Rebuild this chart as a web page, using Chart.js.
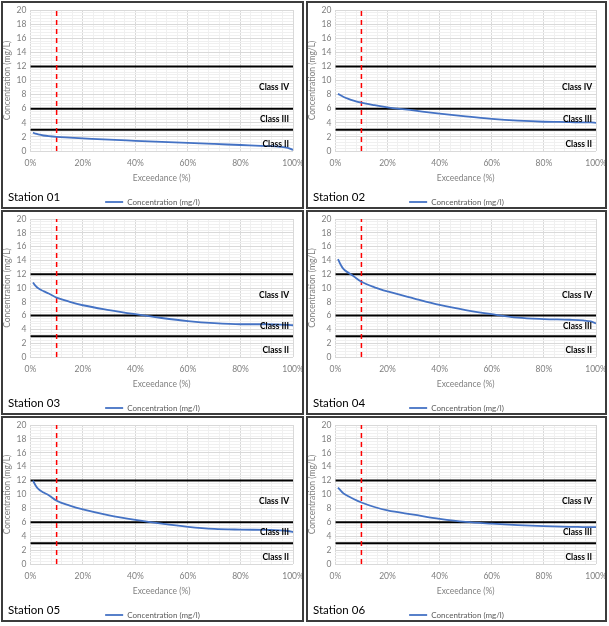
<!DOCTYPE html>
<html>
<head>
<meta charset="utf-8">
<script src="https://cdn.jsdelivr.net/npm/chart.js@4"></script>
<style>
  body { margin: 0; background: #fff; width: 609px; height: 626px; position: relative; overflow: hidden; }
  .panel { position: absolute; box-sizing: border-box; border: 2px solid #3c3c3c; }
  .wrap { position: absolute; left: 0; top: 0; }
  .station { position: absolute; left: 5px; font: 11.5px Lato, "Open Sans", sans-serif; color: #000; }
</style>
</head>
<body>
<script>
// exceedance (%) along x, shared by all stations
const exceed = [1, 2, 3, 5, 7, 10, 15, 20, 30, 40, 50, 60, 70, 80, 90, 95, 98, 100];

const st01 = [2.6, 2.45, 2.35, 2.2, 2.1, 2.0, 1.9, 1.8, 1.6, 1.45, 1.3, 1.15, 1.0, 0.85, 0.7, 0.6, 0.45, 0.15];
const st02 = [8.1, 7.9, 7.7, 7.4, 7.15, 6.85, 6.5, 6.2, 5.75, 5.3, 4.9, 4.55, 4.3, 4.15, 4.1, 4.05, 4.05, 4.0];
const st03 = [10.8, 10.3, 9.95, 9.55, 9.2, 8.6, 8.0, 7.5, 6.8, 6.2, 5.65, 5.2, 4.9, 4.75, 4.75, 4.7, 4.65, 4.6];
const st04 = [14.2, 13.4, 12.8, 12.2, 11.7, 10.9, 10.1, 9.5, 8.5, 7.55, 6.8, 6.2, 5.7, 5.5, 5.4, 5.3, 5.15, 4.85];
const st05 = [12.0, 11.3, 10.8, 10.3, 9.9, 9.1, 8.4, 7.85, 7.0, 6.35, 5.8, 5.35, 5.05, 4.95, 4.9, 4.85, 4.75, 4.6];
const st06 = [11.0, 10.6, 10.2, 9.75, 9.35, 8.85, 8.2, 7.7, 7.1, 6.5, 6.05, 5.8, 5.6, 5.45, 5.35, 5.32, 5.3, 5.3];

const stations = ['Station 01', 'Station 02', 'Station 03', 'Station 04', 'Station 05', 'Station 06'];
const series = [st01, st02, st03, st04, st05, st06];

const classLimits = [3, 6, 12];
const classLabels = ['Class IV', 'Class III', 'Class II'];
const classLabelY = [9, 4.5, 1];
const refExceed = 10;

// panel boxes [left, top, width, height]
const boxes = [[1, 1, 303, 208], [306, 1, 301, 208], [1, 210, 303, 205], [306, 210, 301, 205], [1, 416, 303, 206], [306, 416, 301, 206]];

const font = 'Lato, "Open Sans", sans-serif';
const near = (v, step) => Math.abs(v / step - Math.round(v / step)) < 1e-6;

const classText = {
  id: 'classText',
  afterDatasetsDraw(chart) {
    const { ctx, scales: { x, y } } = chart;
    ctx.save();
    ctx.font = 'bold 8.5px ' + font;
    ctx.fillStyle = '#000';
    ctx.textAlign = 'right';
    ctx.textBaseline = 'middle';
    classLabels.forEach((t, i) => ctx.fillText(t, x.getPixelForValue(98.5), y.getPixelForValue(classLabelY[i])));
    ctx.restore();
  }
};

stations.forEach((name, i) => {
  const [l, t, w, h] = boxes[i];
  const div = document.createElement('div');
  div.className = 'panel';
  Object.assign(div.style, { left: l + 'px', top: t + 'px', width: w + 'px', height: h + 'px' });
  const wrap = document.createElement('div');
  wrap.className = 'wrap';
  // canvas runs a little past the bottom border so the legend sits low like the original
  Object.assign(wrap.style, { width: (w - 4) + 'px', height: (h - 4 + 9) + 'px' });
  const cv = document.createElement('canvas');
  wrap.appendChild(cv);
  div.appendChild(wrap);
  const lab = document.createElement('div');
  lab.className = 'station';
  lab.style.top = (h - 21) + 'px';
  lab.textContent = name;
  div.appendChild(lab);
  document.body.appendChild(div);

  const flat = v => [{ x: 0, y: v }, { x: 100, y: v }];
  new Chart(cv, {
    type: 'line',
    data: {
      datasets: [
        { label: 'Concentration (mg/l)', data: exceed.map((e, k) => ({ x: e, y: series[i][k] })),
          borderColor: '#4472C4', backgroundColor: '#4472C4', borderWidth: 1.8, pointRadius: 0, cubicInterpolationMode: 'monotone' },
        { label: 'ref', data: [{ x: refExceed, y: 0 }, { x: refExceed, y: 20 }],
          borderColor: '#ff0000', borderWidth: 1.5, borderDash: [5, 4], pointRadius: 0 },
        ...classLimits.map(v => ({ label: 'limit', data: flat(v), borderColor: '#000', borderWidth: 2, pointRadius: 0 }))
      ]
    },
    options: {
      responsive: true, maintainAspectRatio: false, animation: false,
      layout: { padding: 0 },
      plugins: {
        tooltip: { enabled: false },
        legend: {
          position: 'bottom',
          labels: {
            filter: it => it.datasetIndex === 0,
            usePointStyle: true, pointStyle: 'line', pointStyleWidth: 18, boxHeight: 6,
            padding: 0, color: '#595959', font: { family: font, size: 8 }
          }
        }
      },
      scales: {
        x: {
          type: 'linear', min: 0, max: 100,
          afterBuildTicks: s => { s.ticks = Array.from({ length: 26 }, (_, k) => ({ value: k * 4 })); },
          afterFit: s => { s.paddingRight = 9; s.paddingLeft = 0; },
          ticks: { autoSkip: false, maxRotation: 0, padding: 8, color: '#7f7f7f', font: { family: font, size: 8.5, lineHeight: 1 },
                   callback: v => near(v, 20) ? v + '%' : '' },
          grid: { drawTicks: false, color: c => near(c.tick.value, 20) ? '#d9d9d9' : '#f0f0f0' },
          border: { display: false },
          title: { display: true, text: 'Exceedance (%)', color: '#7f7f7f', font: { family: font, size: 8.5, lineHeight: 1 }, padding: { top: -1, bottom: 15 } }
        },
        y: {
          min: 0, max: 20,
          afterBuildTicks: s => { s.ticks = Array.from({ length: 51 }, (_, k) => ({ value: Math.round(k * 4) / 10 })); },
          afterFit: s => { s.paddingTop = 7; },
          ticks: { autoSkip: false, padding: 4, color: '#7f7f7f', font: { family: font, size: 8.5 },
                   callback: v => near(v, 2) ? v : '' },
          grid: { drawTicks: false, color: c => near(c.tick.value, 2) ? '#d9d9d9' : '#f0f0f0' },
          border: { display: false },
          title: { display: true, text: 'Concentration (mg/L)', color: '#7f7f7f', font: { family: font, size: 8.5, lineHeight: 1 }, padding: { top: 0, bottom: 1 } }
        }
      }
    },
    plugins: [classText]
  });
});
</script>
</body>
</html>
